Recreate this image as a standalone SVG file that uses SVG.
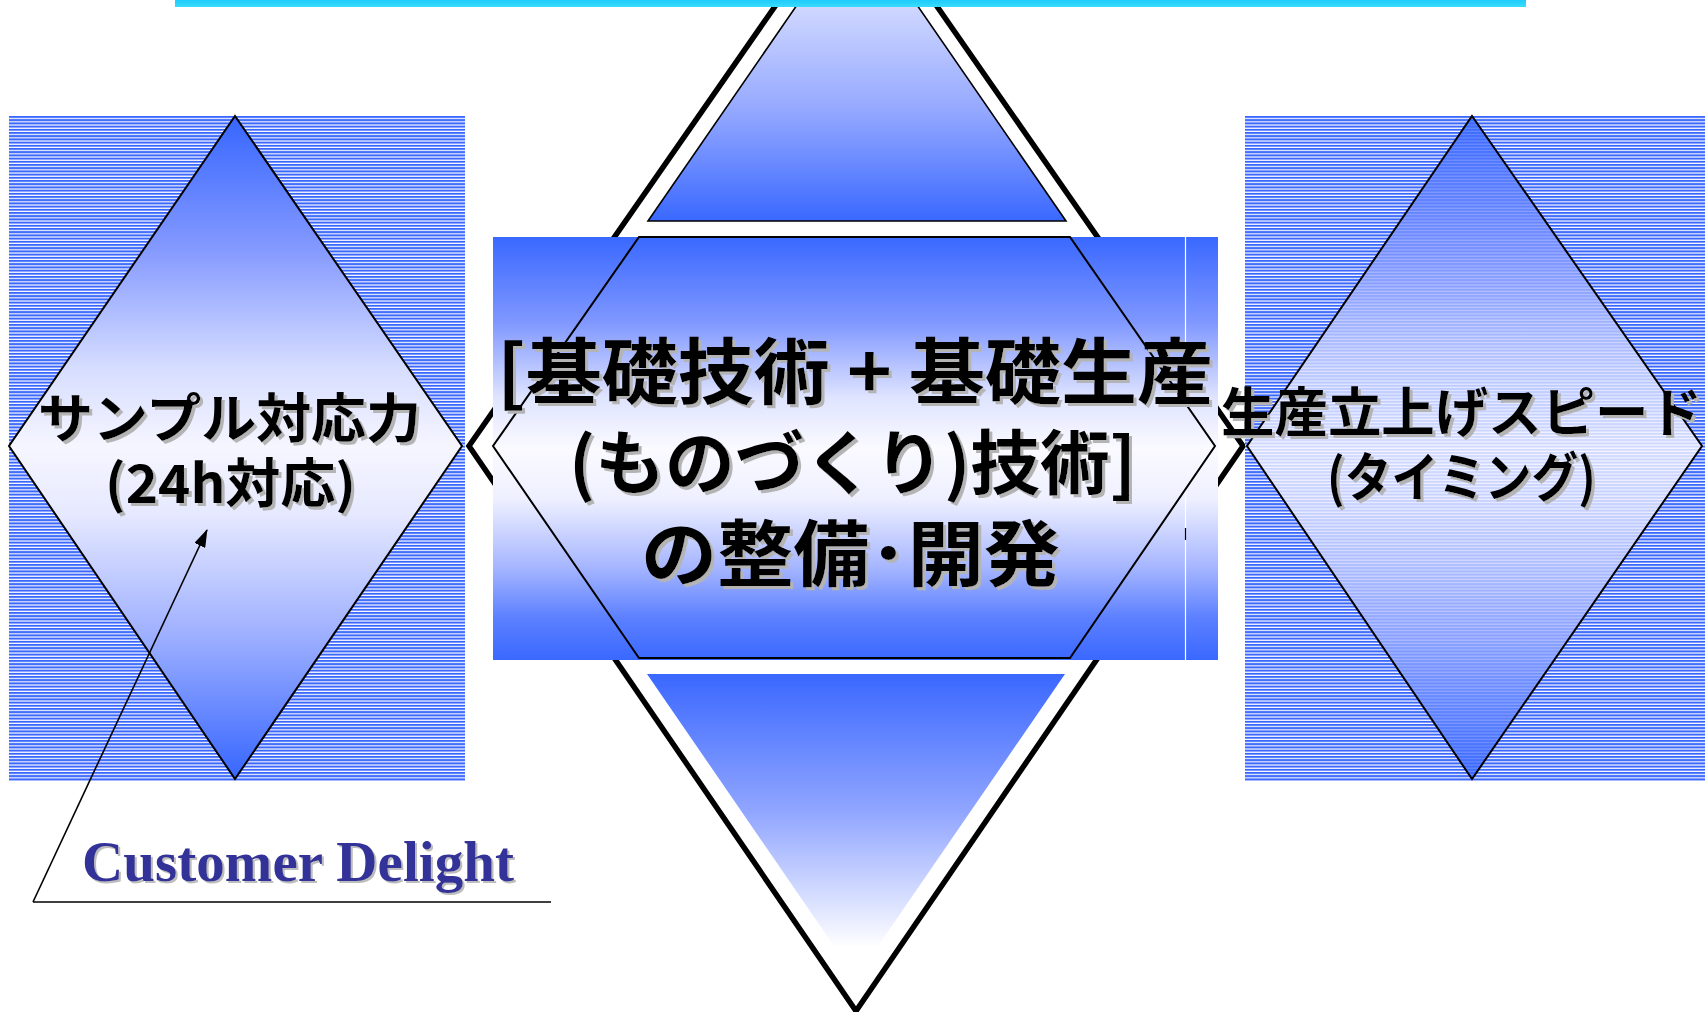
<svg xmlns="http://www.w3.org/2000/svg" width="1705" height="1012" viewBox="0 0 1705 1012">
<style>
.jp{font-family:"Noto Sans CJK JP","Noto Sans CJK SC",sans-serif;font-weight:700;fill:#000;filter:url(#sh);}
.edge{fill:none;stroke:#000;stroke-width:1.6;}
</style>
<defs>
<pattern id="stripes" x="0" y="116" width="8" height="3.2" patternUnits="userSpaceOnUse">
<rect x="0" y="0" width="8" height="3.2" fill="#ffffff"/>
<rect x="0" y="0" width="8" height="1.6" fill="#3a68ff"/>
<rect x="0" y="1.6" width="8" height="0.8" fill="#9db0ff"/>
</pattern>
<linearGradient id="gSide" x1="0" y1="116" x2="0" y2="779" gradientUnits="userSpaceOnUse">
<stop offset="0" stop-color="#3666ff"/>
<stop offset="0.2" stop-color="#8499ff"/>
<stop offset="0.38" stop-color="#d6ddff"/>
<stop offset="0.5" stop-color="#f6f6ff"/>
<stop offset="0.6" stop-color="#e6e9ff"/>
<stop offset="0.78" stop-color="#9fb0ff"/>
<stop offset="1" stop-color="#3666ff"/>
</linearGradient>
<linearGradient id="gCenter" x1="0" y1="237" x2="0" y2="660" gradientUnits="userSpaceOnUse">
<stop offset="0" stop-color="#3a68ff"/>
<stop offset="0.2" stop-color="#7f97ff"/>
<stop offset="0.38" stop-color="#dfe4ff"/>
<stop offset="0.5" stop-color="#fafaff"/>
<stop offset="0.62" stop-color="#eef0ff"/>
<stop offset="0.78" stop-color="#a6b6ff"/>
<stop offset="0.9" stop-color="#5c80ff"/>
<stop offset="1" stop-color="#3a68ff"/>
</linearGradient>
<linearGradient id="gTop" x1="0" y1="0" x2="0" y2="221" gradientUnits="userSpaceOnUse">
<stop offset="0" stop-color="#d3daff"/>
<stop offset="0.5" stop-color="#94a8ff"/>
<stop offset="1" stop-color="#3a68ff"/>
</linearGradient>
<linearGradient id="gBottom" x1="0" y1="674" x2="0" y2="978" gradientUnits="userSpaceOnUse">
<stop offset="0" stop-color="#3a68ff"/>
<stop offset="0.45" stop-color="#90a5ff"/>
<stop offset="0.9" stop-color="#ffffff"/>
</linearGradient>
<linearGradient id="gBar" x1="0" y1="0" x2="0" y2="7" gradientUnits="userSpaceOnUse">
<stop offset="0" stop-color="#1ecbfb"/>
<stop offset="1" stop-color="#3adcff"/>
</linearGradient>
<filter id="sh" x="-5%" y="-10%" width="115%" height="130%">
<feDropShadow dx="3" dy="3" stdDeviation="0" flood-color="#b4b4b4" flood-opacity="1"/>
</filter>
<filter id="sh2" x="-5%" y="-10%" width="115%" height="130%">
<feDropShadow dx="2" dy="2" stdDeviation="0" flood-color="#bdbdbd" flood-opacity="1"/>
</filter>
<marker id="arr" markerWidth="18" markerHeight="12" refX="17" refY="6" orient="auto" markerUnits="userSpaceOnUse">
<path d="M0,0 L18,6 L0,12 Z" fill="#000"/>
</marker>
</defs>

<g id="center-node">
<polygon points="856,-110 1243,446 856,1011 469,446" fill="#ffffff" stroke="#000" stroke-width="5.5"/>
<polygon points="648,221 1066,221 857,-82" class="edge" style="fill:url(#gTop)"/>
<polygon points="647,674 1065,674 856,978" fill="url(#gBottom)"/>
<rect x="493" y="237" width="725" height="423" fill="url(#gCenter)"/>
<line x1="1185.5" y1="237" x2="1185.5" y2="660" stroke="#ffffff" stroke-width="1.2"/>
<line x1="1185.5" y1="528" x2="1185.5" y2="540" stroke="#000" stroke-width="1.2"/>
<polygon points="639,237 1070,237 1215,446 1070,658 639,658 493,446" fill="url(#gCenter)" stroke="#000" stroke-width="2"/>
<text class="jp" x="497" y="398" font-size="72" textLength="716" lengthAdjust="spacingAndGlyphs">[基礎技術 + 基礎生産</text>
<text class="jp" x="569" y="489" font-size="70" textLength="567" lengthAdjust="spacingAndGlyphs">(ものづくり)技術]</text>
<text class="jp" x="641" y="580" font-size="72" textLength="419" lengthAdjust="spacingAndGlyphs">の整備･開発</text>
</g>

<g id="left-node">
<rect x="9" y="116" width="456" height="665" fill="url(#stripes)"/>
<polygon points="235,116 462,446 235,779 9,446" fill="url(#gSide)" stroke="#000" stroke-width="2"/>
<text class="jp" x="38" y="438" font-size="53" textLength="383" lengthAdjust="spacingAndGlyphs">サンプル対応力</text>
<text class="jp" x="105" y="503" font-size="53" textLength="251" lengthAdjust="spacingAndGlyphs">(24h対応)</text>
</g>

<g id="right-node">
<rect x="1245" y="116" width="460" height="665" fill="url(#stripes)"/>
<polygon points="1472,116 1702,446 1472,779 1247,446" fill="url(#gSide)" fill-opacity="0.8" stroke="#000" stroke-width="2"/>
<text class="jp" x="1221" y="432" font-size="53" textLength="481" lengthAdjust="spacingAndGlyphs">生産立上げスピード</text>
<text class="jp" x="1327" y="497" font-size="53" textLength="269" lengthAdjust="spacingAndGlyphs">(タイミング)</text>
</g>

<g id="top-bar">
<rect x="175" y="0" width="1351" height="7" fill="url(#gBar)"/>
</g>

<g id="label-customer-delight">
<text x="82" y="881" font-family="'Liberation Serif','Times New Roman',serif" font-weight="700" font-size="57" fill="#333399" filter="url(#sh2)" textLength="432" lengthAdjust="spacingAndGlyphs">Customer Delight</text>
</g>

<g id="connectors">
<line x1="33" y1="902" x2="551" y2="902" stroke="#000" stroke-width="1.6"/>
<line x1="33" y1="902" x2="207" y2="530" stroke="#000" stroke-width="1.6" marker-end="url(#arr)"/>
</g>
</svg>
